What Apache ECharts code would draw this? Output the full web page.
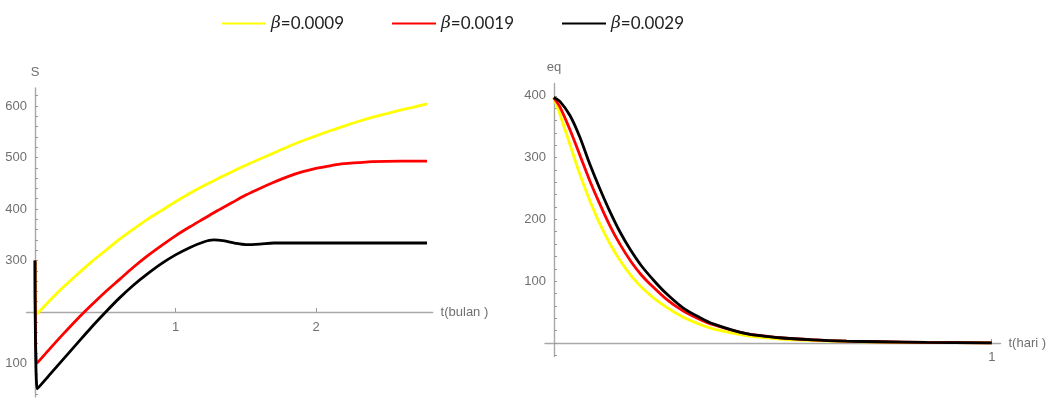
<!DOCTYPE html>
<html>
<head>
<meta charset="utf-8">
<script src="https://cdn.jsdelivr.net/npm/echarts@6/dist/echarts.min.js"></script>
<style>
html,body{margin:0;padding:0;background:#fff;}
#c{width:1051px;height:402px;}
</style>
</head>
<body>
<div id="c"></div>
<script>
// ---- data ----
var seriesNames = ['β=0.0009', 'β=0.0019', 'β=0.0029'];
var seriesColors = ['#ffff00', '#ff0000', '#000000'];

// Left chart: S vs t (bulan)
var leftT_y = [0, 0.012, 0.1, 0.2, 0.3, 0.4, 0.5, 0.6, 0.7, 0.8, 0.9, 1.0, 1.1, 1.2, 1.3, 1.4, 1.5, 1.6, 1.7, 1.8, 1.9, 2.0, 2.1, 2.2, 2.3, 2.4, 2.5, 2.6, 2.7, 2.79];
var leftS_y = [300, 196, 221, 248, 273, 297, 319, 341, 361, 380, 397, 414, 430, 445, 459, 472, 485, 497, 509, 521, 532, 542, 552, 561, 570, 578, 585, 592, 598, 604];
var leftT_r = [0, 0.012, 0.1, 0.2, 0.3, 0.4, 0.5, 0.6, 0.7, 0.8, 0.9, 1.0, 1.1, 1.2, 1.3, 1.4, 1.5, 1.6, 1.7, 1.8, 1.9, 2.0, 2.1, 2.2, 2.3, 2.4, 2.6, 2.79];
var leftS_r = [300, 100, 127, 157, 186, 213, 239, 263, 287, 309, 329, 348, 365, 381, 397, 412, 427, 440, 452, 463, 472, 479, 484, 488, 490, 492, 493, 493];
var leftT_k = [0, 0.016, 0.1, 0.2, 0.3, 0.4, 0.51, 0.6, 0.7, 0.8, 0.9, 1.0, 1.1, 1.2, 1.27, 1.35, 1.42, 1.5, 1.6, 1.7, 1.9, 2.3, 2.79];
var leftS_k = [300, 51, 77, 108, 139, 170, 202, 227, 252, 274, 294, 311, 325, 336, 340, 338, 334, 331, 332, 334, 334, 334, 334];

// Right chart: eq vs t (hari)
var rightT_y = [0, 0.014, 0.037, 0.059, 0.082, 0.105, 0.128, 0.15, 0.181, 0.219, 0.257, 0.295, 0.334, 0.364, 0.44, 0.516, 0.592, 0.669, 0.745, 0.85, 1.0];
var rightEq_y = [397, 370, 321, 274, 231, 193, 161, 135, 105, 78, 58, 42, 30, 23, 12, 6.5, 4, 2.5, 1.5, 0.8, 0.3];
var rightT_r = [0, 0.014, 0.037, 0.059, 0.082, 0.105, 0.128, 0.151, 0.177, 0.2, 0.219, 0.257, 0.295, 0.334, 0.364, 0.44, 0.516, 0.592, 0.669, 0.745, 0.85, 1.0];
var rightEq_r = [397, 382, 345, 305, 263, 225, 190, 160, 131, 110, 96, 71, 52, 38, 29.5, 15, 8.5, 5, 3, 2, 1, 0.3];
var rightT_k = [0, 0.014, 0.037, 0.059, 0.082, 0.105, 0.128, 0.151, 0.174, 0.2, 0.23, 0.257, 0.295, 0.334, 0.364, 0.44, 0.516, 0.592, 0.669, 0.745, 0.85, 1.0];
var rightEq_k = [397, 391, 368, 334, 290, 250, 213, 180, 152, 125, 100, 80, 57, 41, 31, 15, 8.5, 5, 3, 2, 1, 0.3];

// Ticks / labels
var leftXLabels = [1, 2];
var leftYLabels = [100, 300, 400, 500, 600];
var leftYTicks = [40, 60, 80, 100, 120, 140, 160, 180, 200, 220, 240, 260, 280, 300, 320, 340, 360, 380, 400, 420, 440, 460, 480, 500, 520, 540, 560, 580, 600, 620];
var rightXLabels = [1];
var rightYLabels = [100, 200, 300, 400];
var rightYTicks = [-20, 0, 20, 40, 60, 80, 100, 120, 140, 160, 180, 200, 220, 240, 260, 280, 300, 320, 340, 360, 380, 400];

function pairs(ts, vs) { return ts.map(function (t, i) { return [t, vs[i]]; }); }

var FONT = "'Liberation Sans', Arial, sans-serif";
var gray = '#707070';
var axisLineStyle = { color: '#a8a8a8', width: 1.4 };

function xAxisCfg(gridIndex, min, max, labels, name, offset, margin) {
  return {
    type: 'value', gridIndex: gridIndex, min: min, max: max, offset: offset,
    name: name, nameLocation: 'end', nameGap: 8,
    nameTextStyle: { color: gray, fontFamily: FONT, fontSize: 13 },
    axisLine: { show: true, onZero: false, lineStyle: axisLineStyle },
    axisTick: { show: true, inside: true, length: 4, customValues: labels, lineStyle: { color: '#999' } },
    axisLabel: { show: true, customValues: labels, color: gray, fontFamily: FONT, fontSize: 13, margin: margin },
    splitLine: { show: false }
  };
}
function yAxisCfg(gridIndex, min, max, labels, ticks, name, offset) {
  return {
    type: 'value', gridIndex: gridIndex, min: min, max: max, offset: offset,
    name: name, nameLocation: 'end', nameGap: 9,
    nameTextStyle: { color: gray, fontFamily: FONT, fontSize: 13, align: 'center' },
    axisLine: { show: true, onZero: false, lineStyle: axisLineStyle },
    axisTick: { show: true, inside: true, length: 3, customValues: ticks, lineStyle: { color: '#999' } },
    axisLabel: { show: true, customValues: labels, color: gray, fontFamily: FONT, fontSize: 13, margin: 8 },
    splitLine: { show: false }
  };
}

var lineCommon = { type: 'line', showSymbol: false, symbol: 'none', smooth: 0.3, clip: false, animation: false };
function mk(name, color, xi, data) {
  return Object.assign({}, lineCommon, {
    name: name, xAxisIndex: xi, yAxisIndex: xi, data: data,
    lineStyle: { color: color, width: 2.8 }, itemStyle: { color: color }
  });
}

var chart = echarts.init(document.getElementById('c'), null, { renderer: 'canvas' });
chart.setOption({
  animation: false,
  backgroundColor: '#ffffff',
  legend: {
    data: seriesNames, top: 10, left: 217, itemWidth: 44, itemHeight: 14, itemGap: 48,
    icon: 'path://M0,6 L44,6 L44,8 L0,8 Z',
    formatter: function (n) { return '{b|β}{t|' + n.slice(1) + '}'; },
    textStyle: {
      fontSize: 17, color: '#222', fontFamily: 'Lato, "Open Sans", sans-serif',
      rich: {
        b: { fontStyle: 'italic', fontSize: 17, color: '#222', fontFamily: '"DejaVu Serif", serif' },
        t: { fontSize: 17, color: '#222', fontFamily: 'Lato, "Open Sans", sans-serif' }
      }
    }
  },
  grid: [
    { left: 26.6, width: 406, top: 88, height: 309, outerBoundsMode: 'none', containLabel: false },
    { left: 545, width: 455.5, top: 83.4, height: 273.2, outerBoundsMode: 'none', containLabel: false }
  ],
  xAxis: [
    xAxisCfg(0, -0.06, 2.83, leftXLabels, 't(bulan )', -85, 9),
    xAxisCfg(1, -0.02, 1.02, rightXLabels, 't(hari )', -13.6, 8)
  ],
  yAxis: [
    yAxisCfg(0, 35, 635, leftYLabels, leftYTicks, 'S', -8.4),
    yAxisCfg(1, -22, 420, rightYLabels, rightYTicks, 'eq', -9)
  ],
  series: [
    mk(seriesNames[0], seriesColors[0], 0, pairs(leftT_y, leftS_y)),
    mk(seriesNames[1], seriesColors[1], 0, pairs(leftT_r, leftS_r)),
    mk(seriesNames[2], seriesColors[2], 0, pairs(leftT_k, leftS_k)),
    mk(seriesNames[0], seriesColors[0], 1, pairs(rightT_y, rightEq_y)),
    mk(seriesNames[1], seriesColors[1], 1, pairs(rightT_r, rightEq_r)),
    mk(seriesNames[2], seriesColors[2], 1, pairs(rightT_k, rightEq_k))
  ]
});
</script>
</body>
</html>
